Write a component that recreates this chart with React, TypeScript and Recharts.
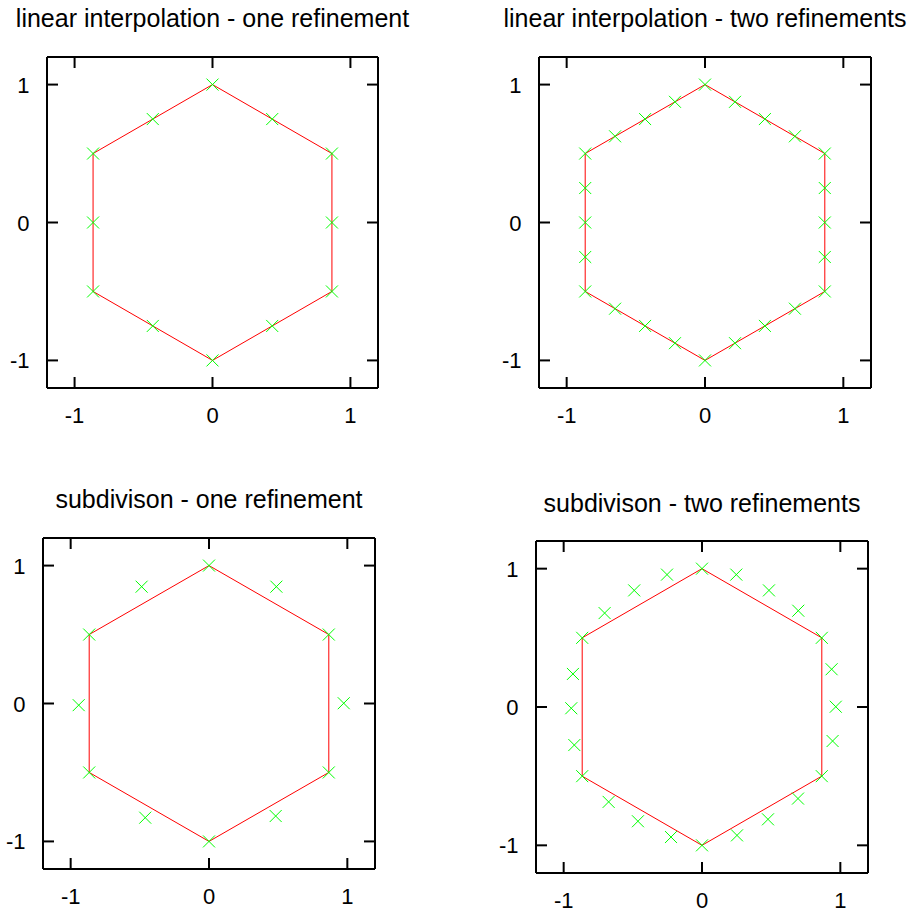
import React from 'react';
import { ScatterChart, Scatter, XAxis, YAxis } from 'recharts';

// Coarse control polygon: a regular hexagon, closed back on its first vertex.
const hexagonX = [0, 0.866, 0.866, 0, -0.866, -0.866, 0];
const hexagonY = [1, 0.5, -0.5, -1, -0.5, 0.5, 1];

// Linear interpolation, one refinement (edge midpoints added).
const linearOneX = [0, 0.433, 0.866, 0.866, 0.866, 0.433, 0, -0.433, -0.866, -0.866, -0.866, -0.433];
const linearOneY = [1, 0.75, 0.5, 0, -0.5, -0.75, -1, -0.75, -0.5, 0, 0.5, 0.75];

// Linear interpolation, two refinements.
const linearTwoX = [
  0, 0.217, 0.433, 0.65, 0.866, 0.866, 0.866, 0.866, 0.866, 0.65, 0.433, 0.217,
  0, -0.217, -0.433, -0.65, -0.866, -0.866, -0.866, -0.866, -0.866, -0.65, -0.433, -0.217,
];
const linearTwoY = [
  1, 0.875, 0.75, 0.625, 0.5, 0.25, 0, -0.25, -0.5, -0.625, -0.75, -0.875,
  -1, -0.875, -0.75, -0.625, -0.5, -0.25, 0, 0.25, 0.5, 0.625, 0.75, 0.875,
];

// Subdivision scheme, one refinement.
const subdivOneX = [0, 0.487, 0.866, 0.974, 0.866, 0.482, 0, -0.461, -0.866, -0.942, -0.866, -0.487];
const subdivOneY = [1, 0.847, 0.5, 0.002, -0.5, -0.816, -1, -0.828, -0.5, -0.012, 0.5, 0.847];

// Subdivision scheme, two refinements.
const subdivTwoX = [
  0, 0.248, 0.484, 0.696, 0.866, 0.937, 0.967, 0.944, 0.866, 0.694, 0.477, 0.253,
  0, -0.224, -0.463, -0.675, -0.866, -0.923, -0.945, -0.933, -0.866, -0.704, -0.49, -0.253,
];
const subdivTwoY = [
  1, 0.957, 0.843, 0.696, 0.5, 0.273, 0.002, -0.246, -0.5, -0.662, -0.812, -0.928,
  -1, -0.94, -0.826, -0.686, -0.5, -0.275, -0.009, 0.239, 0.5, 0.679, 0.843, 0.957,
];

const axisDomain: [number, number] = [-1.2, 1.2];
const axisTicks = [-1, 0, 1];

const titles = [
  'linear interpolation - one refinement',
  'linear interpolation - two refinements',
  'subdivison - one refinement',
  'subdivison - two refinements',
];

type Pt = { x: number; y: number };
const zip = (xs: number[], ys: number[]): Pt[] => xs.map((x, i) => ({ x, y: ys[i] }));

const hexagon = zip(hexagonX, hexagonY);

const FONT = '"Liberation Sans", Arial, Helvetica, sans-serif';
const TICK_LEN = 11;
const TICK_W = 2;

const Cross = (props: any) => {
  const { cx, cy } = props;
  if (cx == null || cy == null) return <g />;
  const s = 6;
  return (
    <g stroke="#00ff00" strokeWidth={1}>
      <line x1={cx - s} y1={cy - s} x2={cx + s} y2={cy + s} />
      <line x1={cx - s} y1={cy + s} x2={cx + s} y2={cy - s} />
    </g>
  );
};

const NoMark = () => <g />;
const NoTick = () => <g />;

const frameStroke = { stroke: '#000', strokeWidth: 2 };

type PanelProps = {
  title: string;
  left: number;
  top: number;
  plotW: number;
  plotH: number;
  titleTop: number;
  points: Pt[];
};

function Panel({ title, left, top, plotW, plotH, titleTop, points }: PanelProps) {
  const axisW = 40;
  const bottomH = 40;
  const rightPad = 10;
  const width = axisW + plotW + 1 + rightPad;
  const height = 1 + plotH + bottomH;

  // Frame edges in chart coordinates.
  const plotTop = 1;
  const plotBottom = 1 + plotH;
  const plotLeft = axisW;
  const plotRight = axisW + plotW;

  // Tick marks point into the frame on both opposite sides (mirrored);
  // the axis supplies the scaled position of each tick value.
  const BottomTick = (props: any) => {
    const { x, payload } = props;
    return (
      <g>
        <line x1={x} x2={x} y1={plotBottom} y2={plotBottom - TICK_LEN} stroke="#000" strokeWidth={TICK_W} />
        <line x1={x} x2={x} y1={plotTop} y2={plotTop + TICK_LEN} stroke="#000" strokeWidth={TICK_W} />
        <text x={x} y={plotBottom + 34.5} textAnchor="middle" fill="#000" fontSize={22} fontFamily={FONT}>
          {payload.value}
        </text>
      </g>
    );
  };
  const LeftTick = (props: any) => {
    const { y, payload } = props;
    return (
      <g>
        <line x1={plotLeft} x2={plotLeft + TICK_LEN} y1={y} y2={y} stroke="#000" strokeWidth={TICK_W} />
        <line x1={plotRight} x2={plotRight - TICK_LEN} y1={y} y2={y} stroke="#000" strokeWidth={TICK_W} />
        <text x={plotLeft - 17.5} y={y + 8} textAnchor="end" fill="#000" fontSize={22} fontFamily={FONT}>
          {payload.value}
        </text>
      </g>
    );
  };

  return (
    <>
      <div
        style={{
          position: 'absolute',
          left: left - 150,
          width: plotW + 300,
          top: titleTop,
          textAlign: 'center',
          fontFamily: FONT,
          fontSize: 25,
          lineHeight: '25px',
          color: '#000',
          whiteSpace: 'nowrap',
        }}
      >
        {title}
      </div>
      <div style={{ position: 'absolute', left: left - axisW, top: top - 1 }}>
        <ScatterChart width={width} height={height} margin={{ top: 0, right: rightPad, bottom: 0, left: 0 }}>
          <XAxis xAxisId="b" type="number" dataKey="x" orientation="bottom" domain={axisDomain} ticks={axisTicks} interval={0} height={bottomH} axisLine={frameStroke} tickLine={false} tick={BottomTick} />
          <XAxis xAxisId="t" type="number" dataKey="x" orientation="top" domain={axisDomain} ticks={axisTicks} interval={0} height={1} axisLine={frameStroke} tickLine={false} tick={NoTick} />
          <YAxis yAxisId="l" type="number" dataKey="y" orientation="left" domain={axisDomain} ticks={axisTicks} interval={0} width={axisW} axisLine={frameStroke} tickLine={false} tick={LeftTick} />
          <YAxis yAxisId="r" type="number" dataKey="y" orientation="right" domain={axisDomain} ticks={axisTicks} interval={0} width={1} axisLine={frameStroke} tickLine={false} tick={NoTick} />
          <Scatter xAxisId="b" yAxisId="l" data={hexagon} line={{ stroke: '#ff0000', strokeWidth: 1 }} lineType="joint" shape={NoMark} isAnimationActive={false} />
          <Scatter xAxisId="b" yAxisId="l" data={points} shape={Cross} isAnimationActive={false} />
        </ScatterChart>
      </div>
    </>
  );
}

const panels = [
  { title: titles[0], left: 47, top: 57, plotW: 331, plotH: 331, titleTop: 5.5, points: zip(linearOneX, linearOneY) },
  { title: titles[1], left: 539, top: 57, plotW: 332, plotH: 331, titleTop: 5.5, points: zip(linearTwoX, linearTwoY) },
  { title: titles[2], left: 43, top: 538, plotW: 332, plotH: 331, titleTop: 486.5, points: zip(subdivOneX, subdivOneY) },
  { title: titles[3], left: 536, top: 541, plotW: 332, plotH: 332, titleTop: 491, points: zip(subdivTwoX, subdivTwoY) },
];

export default function App() {
  return (
    <div style={{ position: 'absolute', left: 0, top: 0, width: 912, height: 911, overflow: 'hidden', background: '#fff' }}>
      {panels.map((p) => (
        <Panel key={p.title} {...p} />
      ))}
    </div>
  );
}
